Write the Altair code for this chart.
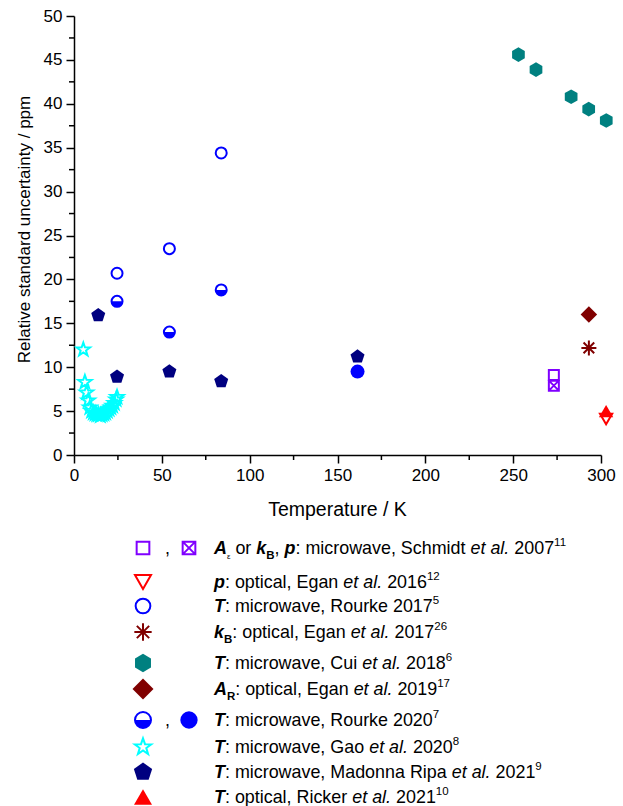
import altair as alt
import pandas as pd

FONT = "Liberation Sans"

# ---------------- data: temperature (K) and relative standard uncertainty (ppm) ----------------
schmidt_T = [273.16]
schmidt_u_open = [9.1]
schmidt_u_cross = [7.9]

egan2016_T = [302.9]
egan2016_u = [4.1]

rourke2017_T = [24.5, 54.3, 83.8]
rourke2017_u = [20.7, 23.5, 34.4]

egan2017_T = [293.1]
egan2017_u = [12.2]

cui2018_T = [253.0, 263.0, 283.0, 293.0, 303.0]
cui2018_u = [45.6, 43.9, 40.8, 39.4, 38.1]

egan2019_T = [293.1]
egan2019_u = [16.0]

rourke2020_half_T = [24.5, 54.3, 83.8]
rourke2020_half_u = [17.5, 14.0, 18.8]
rourke2020_full_T = [161.4]
rourke2020_full_u = [9.5]

gao2020_T = [5.3, 6.2, 7.1, 8.1, 9.0, 10.0, 11.0, 12.0, 13.0, 14.0, 15.0,
             16.0, 17.0, 18.0, 19.0, 20.0, 21.0, 22.0, 23.0, 24.0, 24.5]
gao2020_u = [12.0, 8.3, 7.1, 6.2, 5.4, 5.0, 4.8, 4.7, 4.6, 4.6, 4.5,
             4.6, 4.7, 4.8, 5.0, 5.2, 5.4, 5.6, 5.9, 6.3, 6.6]

ripa2021_T = [13.8, 24.5, 54.3, 83.8, 161.4]
ripa2021_u = [15.9, 8.9, 9.5, 8.4, 11.2]

ricker2021_T = [302.9]
ricker2021_u = [5.0]

x_major = [0, 50, 100, 150, 200, 250, 300]
x_minor = [25, 75, 125, 175, 225, 275]
y_major = [0, 5, 10, 15, 20, 25, 30, 35, 40, 45, 50]
y_minor = [2.5, 7.5, 12.5, 17.5, 22.5, 27.5, 32.5, 37.5, 42.5, 47.5]

# ---------------- symbol paths ----------------
SQUARE_X = "M-1,-1H1V1H-1Z M-1,-1L1,1 M1,-1L-1,1"
ASTERISK = "M0,-1V1 M-1,0H1 M-0.71,-0.71L0.71,0.71 M0.71,-0.71L-0.71,0.71"
HEXAGON = "M0,-1L0.866,-0.5L0.866,0.5L0,1L-0.866,0.5L-0.866,-0.5Z"
PENTAGON = "M0,-1L0.951,-0.309L0.588,0.809L-0.588,0.809L-0.951,-0.309Z"
STAR = ("M0,-1L0.235,-0.324L0.951,-0.309L0.380,0.124L0.588,0.809L0,0.4"
        "L-0.588,0.809L-0.380,0.124L-0.951,-0.309L-0.235,-0.324Z")
HALF = "M-1,0A1,1 0 0,0 1,0Z"

VIOLET, RED, BLUE, WINE = "#8000FF", "#FF0000", "#0000FF", "#800000"
TEAL, CYAN, NAVY = "#008080", "#00FFFF", "#000080"

W, H = 527, 439
PAD_L, PAD_T = 74, 16

x_scale = alt.Scale(domain=[0, 300], nice=False, zero=False)
y_scale = alt.Scale(domain=[0, 50], nice=False, zero=False)

x_axis = alt.Axis(values=x_major, grid=False, tickSize=8, tickWidth=1.5, tickColor="black",
                  domainWidth=1.5, domainColor="black", labelFont=FONT, labelFontSize=17,
                  labelColor="black", labelPadding=4, labelFlush=False, titleFont=FONT,
                  titleFontSize=19.5, titleFontWeight="normal", titleColor="black",
                  titleX=263, titleY=54, titleBaseline="middle", titleAlign="center")
y_axis = alt.Axis(values=y_major, grid=False, tickSize=8, tickWidth=1.5, tickColor="black",
                  domainWidth=1.5, domainColor="black", labelFont=FONT, labelFontSize=17,
                  labelColor="black", labelPadding=4, labelFlush=False, titleFont=FONT,
                  titleFontSize=17, titleFontWeight="normal", titleColor="black",
                  titleX=-50, titleY=213, titleBaseline="middle", titleAlign="center",
                  titleAngle=270)


def xenc(field="T"):
    return alt.X(f"{field}:Q", scale=x_scale, axis=x_axis, title="Temperature / K")


def yenc(field="u"):
    return alt.Y(f"{field}:Q", scale=y_scale, axis=y_axis,
                 title="Relative standard uncertainty / ppm")


def series(T, u, shape, color, filled, size, sw=2.0):
    df = pd.DataFrame({"T": T, "u": u})
    if filled:
        mark = alt.Chart(df).mark_point(shape=shape, filled=True, fill=color, stroke=None,
                                        size=size, opacity=1)
    else:
        mark = alt.Chart(df).mark_point(shape=shape, filled=False, stroke=color,
                                        strokeWidth=sw, size=size, opacity=1)
    return mark.encode(x=xenc(), y=yenc())


layers = []

# minor ticks
layers.append(alt.Chart(pd.DataFrame({"v": x_minor})).mark_rule(color="black", strokeWidth=1.5)
              .encode(x=xenc("v"), y=alt.value(H), y2=alt.value(H + 5)))
layers.append(alt.Chart(pd.DataFrame({"v": y_minor})).mark_rule(color="black", strokeWidth=1.5)
              .encode(y=yenc("v"), x=alt.value(0), x2=alt.value(-5)))

# data series
layers.append(series(schmidt_T, schmidt_u_open, "square", VIOLET, False, 100))
layers.append(series(schmidt_T, schmidt_u_cross, SQUARE_X, VIOLET, False, 100))
layers.append(series(egan2016_T, egan2016_u, "triangle-down", RED, False, 150))
layers.append(series(rourke2017_T, rourke2017_u, "circle", BLUE, False, 121))
layers.append(series(egan2017_T, egan2017_u, ASTERISK, WINE, False, 225))
layers.append(series(cui2018_T, cui2018_u, HEXAGON, TEAL, True, 215))
layers.append(series(egan2019_T, egan2019_u, "diamond", WINE, True, 272))
layers.append(series(rourke2020_half_T, rourke2020_half_u, HALF, BLUE, True, 121))
layers.append(series(rourke2020_half_T, rourke2020_half_u, "circle", BLUE, False, 121))
layers.append(series(rourke2020_full_T, rourke2020_full_u, "circle", BLUE, True, 196))
layers.append(series(gao2020_T, gao2020_u, STAR, CYAN, False, 200))
layers.append(series(ripa2021_T, ripa2021_u, PENTAGON, NAVY, True, 217))
layers.append(series(ricker2021_T, ricker2021_u, "triangle-up", RED, True, 205))

# ---------------- legend ----------------
row_y = [548, 582, 606, 632, 663, 689, 720, 747, 772, 797]
COL1, COMMA_X, COL2, TEXT_X = 143, 165, 189, 214

# (row, column x, shape, colour, filled, size)
legend_symbols = [
    (0, COL1, "square", VIOLET, False, 161),
    (0, COL2, SQUARE_X, VIOLET, False, 161),
    (1, COL1, "triangle-down", RED, False, 256),
    (2, COL1, "circle", BLUE, False, 216),
    (3, COL1, ASTERISK, WINE, False, 300),
    (4, COL1, HEXAGON, TEAL, True, 340),
    (5, COL1, "diamond", WINE, True, 441),
    (6, COL1, HALF, BLUE, True, 256),
    (6, COL1, "circle", BLUE, False, 256),
    (6, COL2, "circle", BLUE, True, 300),
    (7, COL1, STAR, CYAN, False, 300),
    (8, COL1, PENTAGON, NAVY, True, 370),
    (9, COL1, "triangle-up", RED, True, 324),
]

for r, cx, shp, col, filled, sz in legend_symbols:
    px, py = cx - PAD_L, row_y[r] - PAD_T
    d = pd.DataFrame({"a": [0]})
    if filled:
        m = alt.Chart(d).mark_point(shape=shp, filled=True, fill=col, stroke=None, size=sz, opacity=1)
    else:
        m = alt.Chart(d).mark_point(shape=shp, filled=False, stroke=col, strokeWidth=2, size=sz, opacity=1)
    layers.append(m.encode(x=alt.value(px), y=alt.value(py)))

legend_texts = [
    [("A", "bi"), ("ε", "subg"), (" or ", "n"), ("k", "bi"), ("B", "sub"), (", ", "n"), ("p", "bi"),
     (": microwave, Schmidt ", "n"), ("et al.", "i"), (" 2007", "n"), ("11", "sup")],
    [("p", "bi"), (": optical, Egan ", "n"), ("et al.", "i"), (" 2016", "n"), ("12", "sup")],
    [("T", "bi"), (": microwave, Rourke 2017", "n"), ("5", "sup")],
    [("k", "bi"), ("B", "sub"), (": optical, Egan ", "n"), ("et al.", "i"), (" 2017", "n"), ("26", "sup")],
    [("T", "bi"), (": microwave, Cui ", "n"), ("et al.", "i"), (" 2018", "n"), ("6", "sup")],
    [("A", "bi"), ("R", "sub"), (": optical, Egan ", "n"), ("et al.", "i"), (" 2019", "n"), ("17", "sup")],
    [("T", "bi"), (": microwave, Rourke 2020", "n"), ("7", "sup")],
    [("T", "bi"), (": microwave, Gao ", "n"), ("et al.", "i"), (" 2020", "n"), ("8", "sup")],
    [("T", "bi"), (": microwave, Madonna Ripa ", "n"), ("et al.", "i"), (" 2021", "n"), ("9", "sup")],
    [("T", "bi"), (": optical, Ricker ", "n"), ("et al.", "i"), (" 2021", "n"), ("10", "sup")],
]

# Arial-compatible advance widths (1/1000 em)
REG = {" ": 278, ",": 278, ".": 278, ":": 278, "a": 556, "b": 556, "c": 500, "d": 556,
       "e": 556, "g": 556, "h": 556, "i": 222, "k": 500, "l": 222, "m": 833, "n": 556,
       "o": 556, "p": 556, "r": 333, "t": 278, "u": 556, "v": 500, "w": 722, "C": 722,
       "E": 667, "G": 778, "M": 833, "R": 722, "S": 667, "ε": 440}
BOLD = {"A": 722, "B": 722, "R": 722, "T": 611, "k": 556, "p": 611}

STYLES = {
    "bi": dict(size=17.9, weight="bold", style="italic", dy=0),
    "n": dict(size=17.9, weight="normal", style="normal", dy=0),
    "i": dict(size=17.9, weight="normal", style="italic", dy=0),
    "sub": dict(size=11.5, weight="bold", style="normal", dy=5),
    "subg": dict(size=8, weight="normal", style="normal", dy=5),
    "sup": dict(size=11.5, weight="normal", style="normal", dy=-8),
}


def width(s, st):
    table = BOLD if STYLES[st]["weight"] == "bold" else REG
    return sum(table.get(c, REG.get(c, 556)) for c in s) * STYLES[st]["size"] / 1000


segs = []
for r, parts in enumerate(legend_texts):
    x = TEXT_X
    base = row_y[r] + 6
    for txt, st in parts:
        lead = len(txt) - len(txt.lstrip(" "))
        core = txt.strip(" ")
        trail = len(txt) - len(txt.rstrip(" ")) if core else 0
        x += width(" " * lead, st)
        segs.append({"px": x - PAD_L, "py": base + STYLES[st]["dy"] - PAD_T, "txt": core, "st": st})
        x += width(core, st) + width(" " * trail, st)
# commas between paired symbols
for r in (0, 6):
    segs.append({"px": COMMA_X - PAD_L, "py": row_y[r] + 6 - PAD_T, "txt": ",", "st": "n"})

seg_df = pd.DataFrame(segs)
for st, spec in STYLES.items():
    sub = seg_df[seg_df["st"] == st]
    if sub.empty:
        continue
    layers.append(
        alt.Chart(sub).mark_text(align="left", baseline="alphabetic", font=FONT,
                                 fontSize=spec["size"], fontWeight=spec["weight"],
                                 fontStyle=spec["style"], color="black")
        .encode(x=alt.X("px:Q", scale=None, axis=None),
                y=alt.Y("py:Q", scale=None, axis=None),
                text="txt:N")
    )

chart = (
    alt.layer(*layers)
    .properties(width=W, height=H, autosize=alt.AutoSizeParams(type="none"),
                padding={"left": PAD_L, "top": PAD_T, "right": 623 - PAD_L - W,
                         "bottom": 806 - PAD_T - H},
                background="white")
    .configure_view(stroke=None)
)

chart.save("out.html", embed_options={"renderer": "svg", "actions": False})
